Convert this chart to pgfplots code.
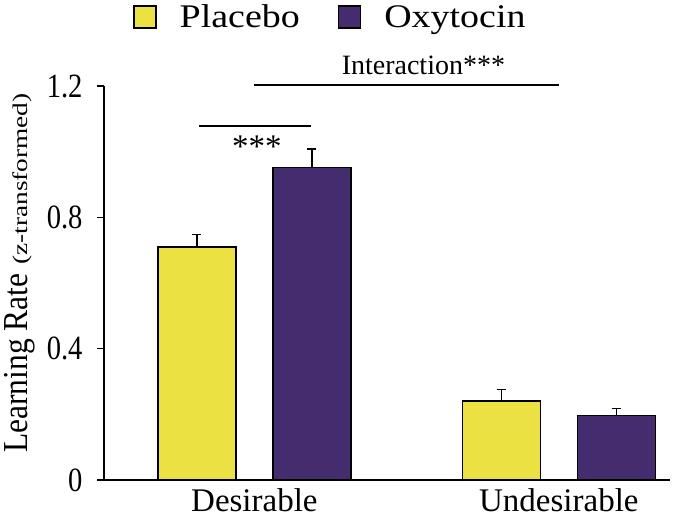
\documentclass[border=0pt]{standalone}
\usepackage{pgfplots}
\pgfplotsset{compat=1.18}
\usepackage{fontspec}
\setmainfont{Liberation Serif}
\newfontfamily\wideserif{Liberation Serif}[FakeStretch=1.15]
\newfontfamily\zserif{Liberation Serif}[FakeStretch=1.3]
\newfontfamily\narrowserif{Liberation Serif}[FakeStretch=0.84]
\newfontfamily\lrserif{Liberation Serif}[FakeStretch=0.9]
\definecolor{pyellow}{RGB}{236,225,66}
\definecolor{opurple}{RGB}{68,44,110}
\begin{document}
\begin{tikzpicture}
\begin{axis}[
  scale only axis, width=566pt, height=394pt,
  xmin=0.506, xmax=2.365, ymin=0, ymax=1.2,
  clip=false,
  axis lines=left, axis line style={-, line width=1.5pt, black},
  ybar, bar width=78pt,
  xtick={1,2}, xticklabels={Desirable,Undesirable},
  x tick style={draw=none},
  ytick={0,0.4,0.8,1.2}, yticklabels={0,0.4,0.8,1.2},
  y tick style={line width=1.5pt, black},
  tick align=outside, major tick length=7pt,
  /pgf/number format/assume math mode=true,
  xticklabel style={font=\fontsize{33}{33}\selectfont, yshift=2pt},
  yticklabel style={font=\fontsize{34}{34}\selectfont\narrowserif, xshift=-11pt},
  ylabel={{\fontsize{35}{35}\selectfont\lrserif Learning Rate}\hspace{9pt}{\fontsize{21}{21}\selectfont\zserif (z-transformed)}},
  every axis y label/.style={at={(axis description cs:-0.1343,0.525)}, rotate=90, anchor=base},
  legend columns=2,
  legend image code/.code={\draw[#1, line width=1.5pt] (0pt,-11pt) rectangle (22pt,11pt);},
  legend style={at={(0.0512,1.175)}, anchor=west, draw=none, fill=none, inner sep=0pt,
    font=\fontsize{33}{33}\selectfont\wideserif,
    nodes={inner sep=0pt},
    /tikz/every odd column/.append style={column sep=23pt},
    /tikz/every even column/.append style={column sep=38pt}},
]
\addplot[fill=pyellow, draw=black, line width=1.5pt, bar shift=-57.5pt,
  error bars/.cd, y dir=plus, y explicit,
  error bar style={line width=1.5pt, black},
  error mark options={line width=1.5pt, mark size=4.5pt, black, rotate=90}]
  coordinates {(1,0.71) +- (0,0.037) (2,0.24) +- (0,0.036)};
\addplot[fill=opurple, draw=black, line width=1.5pt, bar shift=57.5pt,
  error bars/.cd, y dir=plus, y explicit,
  error bar style={line width=1.5pt, black},
  error mark options={line width=1.5pt, mark size=4.5pt, black, rotate=90}]
  coordinates {(1,0.952) +- (0,0.056) (2,0.196) +- (0,0.022)};
\legend{Placebo, Oxytocin}
\draw[line width=1.5pt] (axis cs:1,1.203) -- (axis cs:2,1.203);
\node[anchor=base, font=\fontsize{28}{28}\selectfont] at (axis cs:1.555,1.2335) {Interaction***};
\draw[line width=1.5pt] (axis cs:0.818,1.078) -- (axis cs:1.186,1.078);
\node[anchor=base, inner sep=0pt, font=\fontsize{33}{33}\selectfont] at (axis cs:1.008,0.982) {***};
\end{axis}
\pgfresetboundingbox
\path ([xshift=-104pt,yshift=-39pt]current axis.south west) rectangle ([xshift=7pt,yshift=86pt]current axis.north east);
\end{tikzpicture}
\end{document}
